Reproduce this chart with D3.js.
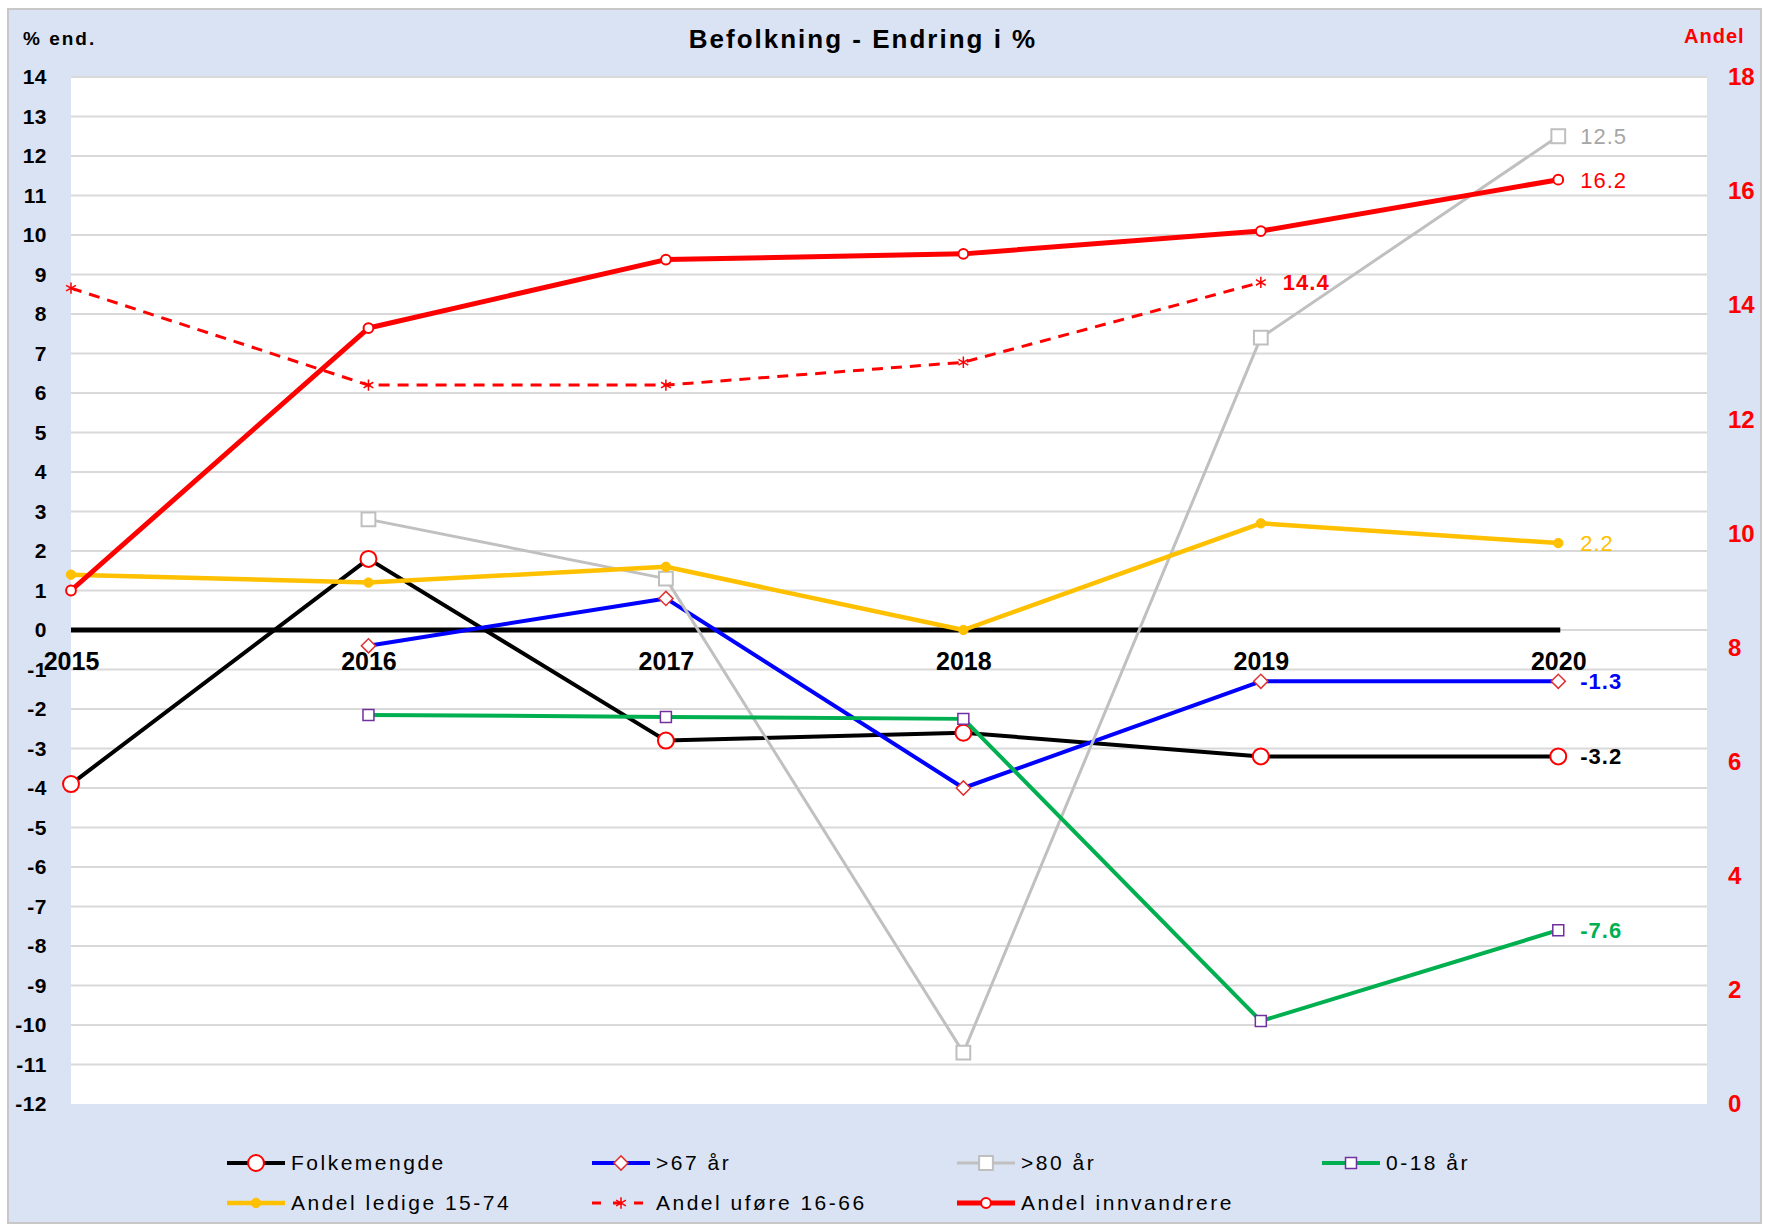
<!DOCTYPE html>
<html>
  <head>
    <meta charset="utf-8">
    <script src="https://d3js.org/d3.v7.min.js"></script>
    <style>
      body { margin: 0; background: #ffffff; }
      svg text { font-family: "Liberation Sans", Arial, sans-serif; }
    </style>
  </head>
  <body>
    <script type="text/javascript">

      // data
      var years = [2015, 2016, 2017, 2018, 2019, 2020];
      var folkemengde = [-3.9, 1.8, -2.8, -2.6, -3.2, -3.2];
      var over67 = [null, -0.4, 0.8, -4.0, -1.3, -1.3];
      var over80 = [null, 2.8, 1.3, -10.7, 7.4, 12.5];
      var barn018 = [null, -2.15, -2.2, -2.25, -9.9, -7.6];
      var ledige = [1.4, 1.2, 1.6, 0.0, 2.7, 2.2];
      var ufore = [14.3, 12.6, 12.6, 13.0, 14.4, null];
      var innvandrere = [9.0, 13.6, 14.8, 14.9, 15.3, 16.2];

      var leftTicks = [-12, -11, -10, -9, -8, -7, -6, -5, -4, -3, -2, -1, 0, 1, 2, 3, 4, 5, 6, 7, 8, 9, 10, 11, 12, 13, 14];
      var rightTicks = [0, 2, 4, 6, 8, 10, 12, 14, 16, 18];

      var series = [
        {name: "Folkemengde", values: folkemengde, axis: "L", color: "#000000", width: 4,
         marker: "circle", msize: 200, mstroke: "#ff0000", mfill: "#ffffff", mwidth: 2,
         labelColor: "#000000", bold: true},
        {name: ">67 år", values: over67, axis: "L", color: "#0000ff", width: 4,
         marker: "diamond", msize: 100, mstroke: "#e03030", mfill: "#ffffff", mwidth: 1.5,
         labelColor: "#0000ff", bold: true},
        {name: ">80 år", values: over80, axis: "L", color: "#c0c0c0", width: 3,
         marker: "square", msize: 190, mstroke: "#bfbfbf", mfill: "#ffffff", mwidth: 2,
         labelColor: "#a6a6a6", bold: false},
        {name: "0-18 år", values: barn018, axis: "L", color: "#00b050", width: 4,
         marker: "square", msize: 120, mstroke: "#7030a0", mfill: "#ffffff", mwidth: 1.5,
         labelColor: "#00b050", bold: true},
        {name: "Andel ledige 15-74", values: ledige, axis: "L", color: "#ffc000", width: 4.5,
         marker: "circle", msize: 70, mstroke: "#ffc000", mfill: "#ffc000", mwidth: 1,
         labelColor: "#ffc000", bold: false},
        {name: "Andel uføre 16-66", values: ufore, axis: "R", color: "#ff0000", width: 3, dash: "11,8",
         marker: "asterisk", msize: 90, mstroke: "#ff0000", mfill: "none", mwidth: 1.5,
         labelColor: "#ff0000", bold: true},
        {name: "Andel innvandrere", values: innvandrere, axis: "R", color: "#ff0000", width: 5,
         marker: "circle", msize: 75, mstroke: "#ff0000", mfill: "#ffffff", mwidth: 2,
         labelColor: "#ff0000", bold: false}
      ];

      var W = 1768, H = 1227;
      var plot = {left: 71, right: 1707, top: 77, bottom: 1104};

      // plain hyphen for negatives, as in the reference
      function plain(d) { return String(d); }
      function oneDec(d) { return d.toFixed(1); }

      var svg = d3.select("body").append("svg")
          .attr("width", W)
          .attr("height", H);

      svg.append("rect")
          .attr("x", 8).attr("y", 9)
          .attr("width", 1753).attr("height", 1214)
          .attr("fill", "#dae3f3")
          .attr("stroke", "#c8c8c8")
          .attr("stroke-width", 2);

      svg.append("rect")
          .attr("x", plot.left).attr("y", plot.top)
          .attr("width", plot.right - plot.left)
          .attr("height", plot.bottom - plot.top)
          .attr("fill", "#ffffff");

      var x = d3.scaleLinear()
        .domain([2015, 2020.5])
        .range([plot.left, plot.right]);

      var yL = d3.scaleLinear()
        .domain([-12, 14])
        .range([plot.bottom, plot.top]);

      var yR = d3.scaleLinear()
        .domain([0, 18])
        .range([plot.bottom, plot.top]);

      // gridlines
      svg.append("g")
        .selectAll("line")
        .data(leftTicks.filter(function(d) { return d > -12; }))
        .enter().append("line")
          .attr("x1", plot.left).attr("x2", plot.right)
          .attr("y1", function(d) { return yL(d); })
          .attr("y2", function(d) { return yL(d); })
          .attr("stroke", "#d9d9d9")
          .attr("stroke-width", 2);

      // left axis
      var leftAxis = svg.append("g")
          .attr("transform", "translate(" + plot.left + ",0)")
          .call(d3.axisLeft(yL).tickValues(leftTicks).tickFormat(plain).tickSize(0).tickPadding(24));
      leftAxis.select(".domain").remove();
      leftAxis.selectAll("text")
          .attr("fill", "#000")
          .style("font-size", "21px")
          .style("font-weight", "bold")
          .style("letter-spacing", "0.5px");

      // right axis
      var rightAxis = svg.append("g")
          .attr("transform", "translate(" + plot.right + ",0)")
          .call(d3.axisRight(yR).tickValues(rightTicks).tickFormat(plain).tickSize(0).tickPadding(21));
      rightAxis.select(".domain").remove();
      rightAxis.selectAll("text")
          .attr("fill", "#ff0000")
          .style("font-size", "24px")
          .style("font-weight", "bold");

      // zero line
      svg.append("line")
          .attr("x1", x(years[0])).attr("x2", x(years[years.length - 1]) + 2)
          .attr("y1", yL(0)).attr("y2", yL(0))
          .attr("stroke", "#000")
          .attr("stroke-width", 5);

      // x axis labels under the zero line
      var xAxis = svg.append("g")
          .attr("transform", "translate(0," + yL(0) + ")")
          .call(d3.axisBottom(x).tickValues(years).tickFormat(plain).tickSize(0).tickPadding(22));
      xAxis.select(".domain").remove();
      xAxis.selectAll("text")
          .attr("fill", "#000")
          .style("font-size", "25px")
          .style("font-weight", "bold");

      var symbolTypes = {
        circle: d3.symbolCircle,
        square: d3.symbolSquare,
        diamond: d3.symbolSquare,
        asterisk: d3.symbolAsterisk
      };

      series.forEach(function(s) {
        var y = s.axis === "L" ? yL : yR;
        var pts = years.map(function(yr, i) { return {year: yr, v: s.values[i]}; })
          .filter(function(d) { return d.v !== null; });

        var line = d3.line()
          .x(function(d) { return x(d.year); })
          .y(function(d) { return y(d.v); });

        svg.append("path")
          .datum(pts)
          .attr("d", line)
          .attr("fill", "none")
          .attr("stroke", s.color)
          .attr("stroke-width", s.width)
          .attr("stroke-dasharray", s.dash || null)
          .attr("stroke-linejoin", "round");

        svg.append("g").selectAll("path")
          .data(pts)
          .enter().append("path")
            .attr("d", d3.symbol().type(symbolTypes[s.marker]).size(s.msize))
            .attr("transform", function(d) {
              return "translate(" + x(d.year) + "," + y(d.v) + ")" + (s.marker === "diamond" ? " rotate(45)" : "");
            })
            .attr("fill", s.mfill)
            .attr("stroke", s.mstroke)
            .attr("stroke-width", s.mwidth);

        var last = pts[pts.length - 1];
        svg.append("text")
          .attr("x", x(last.year) + 22)
          .attr("y", y(last.v))
          .attr("dy", "0.36em")
          .attr("fill", s.labelColor)
          .style("font-size", "22px")
          .style("font-weight", s.bold ? "bold" : "normal")
          .style("letter-spacing", "1px")
          .text(oneDec(last.v));
      });

      // titles
      svg.append("text")
          .attr("x", 863).attr("y", 48)
          .attr("text-anchor", "middle")
          .style("font-size", "26px")
          .style("font-weight", "bold")
          .style("letter-spacing", "2px")
          .text("Befolkning - Endring i %");

      svg.append("text")
          .attr("x", 23).attr("y", 45)
          .style("font-size", "19px")
          .style("font-weight", "bold")
          .style("letter-spacing", "2px")
          .text("% end.");

      svg.append("text")
          .attr("x", 1684).attr("y", 43)
          .attr("fill", "#ff0000")
          .style("font-size", "20px")
          .style("font-weight", "bold")
          .style("letter-spacing", "1px")
          .text("Andel");

      // legend
      var legend = svg.append("g");
      series.forEach(function(s, i) {
        var col = i < 4 ? i : i - 4;
        var row = i < 4 ? 0 : 1;
        var lx = 227 + col * 365;
        var ly = row === 0 ? 1163 : 1203;
        var g = legend.append("g").attr("transform", "translate(" + lx + "," + ly + ")");
        g.append("line")
          .attr("x1", 0).attr("x2", 58)
          .attr("y1", 0).attr("y2", 0)
          .attr("stroke", s.color)
          .attr("stroke-width", s.width)
          .attr("stroke-dasharray", s.dash ? "9,12" : null);
        g.append("path")
          .attr("d", d3.symbol().type(symbolTypes[s.marker]).size(s.msize))
          .attr("transform", "translate(29,0)" + (s.marker === "diamond" ? " rotate(45)" : ""))
          .attr("fill", s.mfill)
          .attr("stroke", s.mstroke)
          .attr("stroke-width", s.mwidth);
        g.append("text")
          .attr("x", 64).attr("y", 7)
          .attr("fill", "#000")
          .style("font-size", "21px")
          .style("letter-spacing", "2.5px")
          .text(s.name);
      });

    </script>
  </body>
</html>
